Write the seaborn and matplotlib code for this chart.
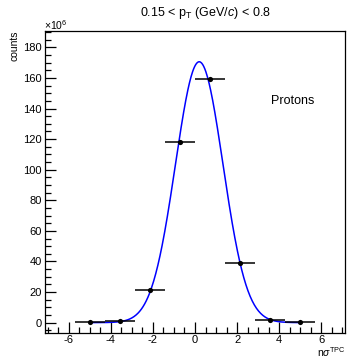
import numpy as np
import pandas as pd
import matplotlib
matplotlib.use("Agg")
import matplotlib.pyplot as plt
import seaborn as sns
from matplotlib.ticker import MultipleLocator

# ---- data (counts in units of 10^6) ----
bin_centers = [-5.0, -3.57, -2.14, -0.71, 0.71, 2.14, 3.57, 5.0]
counts = [0.3, 1.3, 21.4, 118.3, 159.5, 39.0, 1.6, 0.3]
bin_half_width = 0.714
# Gaussian fit parameters
fit_amplitude = 170.6
fit_mean = 0.2
fit_sigma = 1.13
fit_range = (-5.0, 5.0)

x_ticks = [-6, -4, -2, 0, 2, 4, 6]
y_ticks = [0, 20, 40, 60, 80, 100, 120, 140, 160, 180]

sns.set_style("ticks")
plt.rcParams["font.family"] = ["Liberation Sans", "DejaVu Sans"]
plt.rcParams["mathtext.fontset"] = "custom"
plt.rcParams["mathtext.rm"] = "Liberation Sans"
plt.rcParams["mathtext.it"] = "Liberation Sans:italic"
for key in ["text.color", "axes.labelcolor", "xtick.color", "ytick.color",
            "axes.edgecolor"]:
    plt.rcParams[key] = "black"

fig = plt.figure(figsize=(3.47, 3.60), dpi=100)
ax = fig.add_axes([0.129, 0.0758, 0.866, 0.838])

df = pd.DataFrame({"x": bin_centers, "y": counts})

# fit curve
xf = np.linspace(fit_range[0], fit_range[1], 400)
yf = fit_amplitude * np.exp(-0.5 * ((xf - fit_mean) / fit_sigma) ** 2)
sns.lineplot(x=xf, y=yf, color="#0000ff", linewidth=1.1, ax=ax, zorder=2)

# horizontal error bars
ax.errorbar(df["x"], df["y"], xerr=bin_half_width, fmt="none",
            ecolor="black", elinewidth=1.1, capsize=0, zorder=3)
sns.scatterplot(data=df, x="x", y="y", color="black", s=14,
                edgecolor="black", linewidth=0, ax=ax, zorder=4)

ax.set_xlim(-50 / 7, 50 / 7)
ax.set_ylim(-6.6, 190.7)
ax.set_xticks(x_ticks)
ax.set_yticks(y_ticks)
ax.xaxis.set_minor_locator(MultipleLocator(0.5))
ax.yaxis.set_minor_locator(MultipleLocator(5))
ax.tick_params(which="major", direction="in", length=8, width=0.9,
               labelsize=8, pad=2, top=False, right=False, colors="black")
ax.tick_params(which="minor", direction="in", length=4, width=0.9,
               top=False, right=False, colors="black")
ax.set_xticklabels([str(v) for v in x_ticks])
for s in ax.spines.values():
    s.set_linewidth(0.9)
    s.set_color("black")
ax.set_xlabel("")
ax.set_ylabel("")

fig.text(0.591, 0.964, r"0.15 < p$_{\mathrm{T}}$ (GeV/$c$) < 0.8",
         ha="center", va="center", fontsize=9)
fig.text(0.127, 0.931, r"×10$^{6}$", ha="left", va="center", fontsize=7.5)
fig.text(0.042, 0.914, "counts", rotation=90, ha="center", va="top",
         fontsize=7.5)
fig.text(0.844, 0.719, "Protons", ha="center", va="center", fontsize=9)
fig.text(0.997, 0.004, r"n$\sigma^{\mathrm{TPC}}$", ha="right",
         va="bottom", fontsize=7.5)

fig.savefig("out.png", dpi=100)
